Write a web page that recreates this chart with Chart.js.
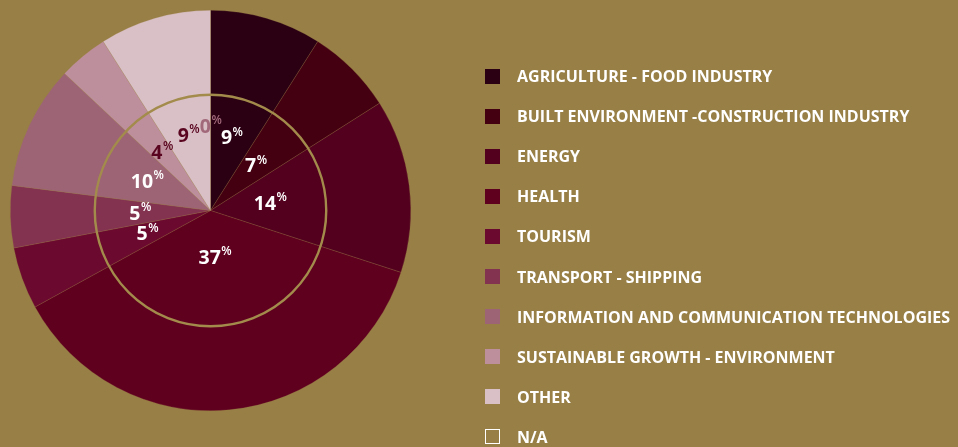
<!DOCTYPE html>
<html>
<head>
<meta charset="utf-8">
<script src="https://cdn.jsdelivr.net/npm/chart.js@4"></script>
<style>
  html, body { margin: 0; padding: 0; }
  body { width: 958px; height: 447px; background: #977F45; position: relative; overflow: hidden; font-family: "Open Sans", sans-serif; }
  #wrap { position: absolute; left: 0; top: 0; width: 958px; height: 447px; }
  #legend { position: absolute; left: 485px; top: 0; margin: 0; padding: 0; list-style: none; }
  #legend li { position: absolute; left: 0; white-space: nowrap; height: 20px; display: flex; align-items: center; }
  #legend .box { width: 15px; height: 15px; box-sizing: border-box; margin-right: 17px; flex: none; }
  #legend .txt { color: #ffffff; font-weight: 700; font-size: 16px; letter-spacing: 0px; }
</style>
</head>
<body>
<div id="wrap"><canvas id="c" width="958" height="447"></canvas></div>
<ul id="legend"></ul>
<script>
const categories = [
  "AGRICULTURE - FOOD INDUSTRY",
  "BUILT ENVIRONMENT -CONSTRUCTION INDUSTRY",
  "ENERGY",
  "HEALTH",
  "TOURISM",
  "TRANSPORT - SHIPPING",
  "INFORMATION AND COMMUNICATION TECHNOLOGIES",
  "SUSTAINABLE GROWTH - ENVIRONMENT",
  "OTHER",
  "N/A"
];
const shares = [9, 7, 14, 37, 5, 5, 10, 4, 9, 0];
const sliceColors = ["#2B0013", "#440011", "#52001E", "#5F001F", "#6B0A2E", "#83334F", "#9C6474", "#BD8F9C", "#D8C0C6", "rgba(0,0,0,0)"];
const labelColors = ["#ffffff", "#ffffff", "#ffffff", "#ffffff", "#ffffff", "#ffffff", "#ffffff", "#5A0520", "#5A0520", "#A2697B"];
// radial position of each label as a fraction of the outer radius
const labelRadiusFrac = [0.38, 0.32, 0.30, 0.232, 0.335, 0.352, 0.35, 0.38, 0.395, 0.422];

// HTML legend
const legend = document.getElementById('legend');
categories.forEach((name, i) => {
  const li = document.createElement('li');
  li.style.top = (66 + i * 40.1) + 'px';
  const box = document.createElement('span');
  box.className = 'box';
  if (i === categories.length - 1) {
    box.style.border = '1.5px solid #ffffff';
  } else {
    box.style.background = sliceColors[i];
  }
  const t = document.createElement('span');
  t.className = 'txt';
  t.textContent = name;
  li.appendChild(box); li.appendChild(t);
  legend.appendChild(li);
});

const ringAndLabels = {
  id: 'ringAndLabels',
  afterDatasetsDraw(chart) {
    const ctx = chart.ctx;
    const meta = chart.getDatasetMeta(0);
    const arc0 = meta.data[0];
    const cx = arc0.x, cy = arc0.y, R = arc0.outerRadius;
    // inner gold ring
    ctx.save();
    ctx.beginPath();
    ctx.arc(cx, cy, R * 0.578, 0, Math.PI * 2);
    ctx.strokeStyle = '#A38B4C';
    ctx.lineWidth = 2.4;
    ctx.stroke();
    ctx.restore();
    // labels
    meta.data.forEach((arc, i) => {
      const mid = (arc.startAngle + arc.endAngle) / 2;
      const r = R * labelRadiusFrac[i];
      const x = cx + Math.cos(mid) * r;
      const y = cy + Math.sin(mid) * r;
      const num = String(shares[i]);
      ctx.save();
      ctx.fillStyle = labelColors[i];
      ctx.font = '700 19.5px "Open Sans"';
      const wNum = ctx.measureText(num).width;
      ctx.font = '600 12px "Open Sans"';
      const wPct = ctx.measureText('%').width;
      const left = x - (wNum + wPct) / 2;
      ctx.textBaseline = 'alphabetic';
      ctx.font = '700 19.5px "Open Sans"';
      ctx.fillText(num, left, y + 7);
      ctx.font = '600 12px "Open Sans"';
      ctx.fillText('%', left + wNum + 0.5, y - 1.5);
      ctx.restore();
    });
  }
};

new Chart(document.getElementById('c'), {
  type: 'pie',
  data: {
    labels: categories,
    datasets: [{
      data: shares,
      backgroundColor: sliceColors,
      borderColor: 'rgba(160,130,75,0.45)',
      borderWidth: 0.5,
      hoverOffset: 0
    }]
  },
  options: {
    responsive: false,
    animation: false,
    layout: { padding: { left: 10, top: 10, right: 547, bottom: 36 } },
    plugins: { legend: { display: false }, tooltip: { enabled: false } }
  },
  plugins: [ringAndLabels]
});
</script>
</body>
</html>
